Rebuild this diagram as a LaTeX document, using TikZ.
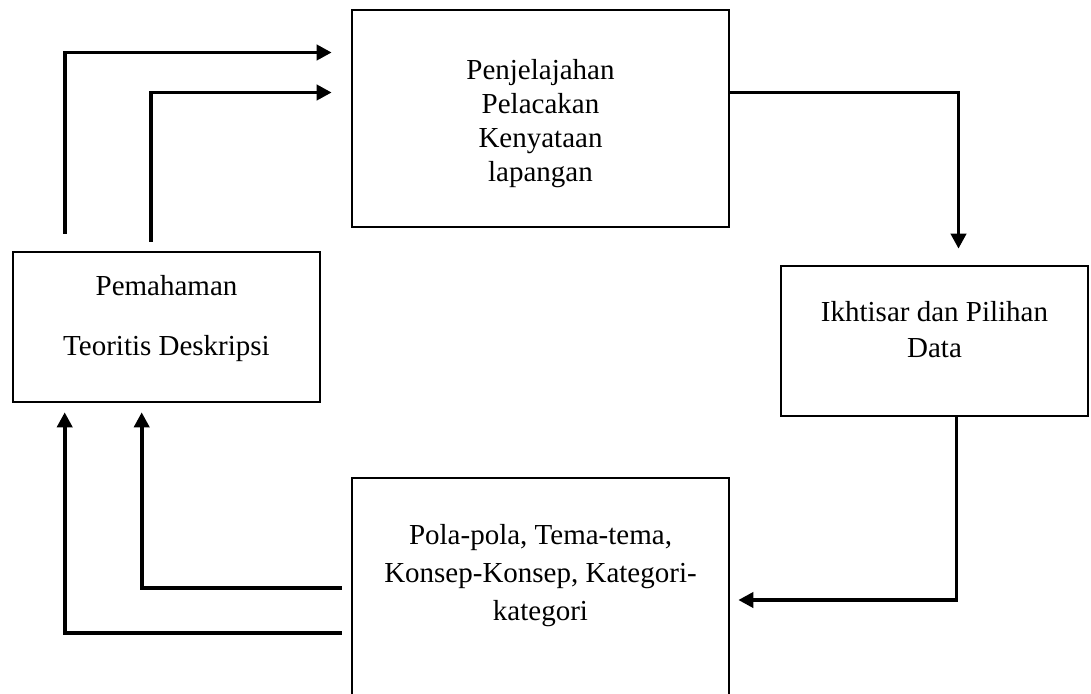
\documentclass[tikz,border=0pt]{standalone}
\usepackage{fontspec}
\setmainfont{Liberation Serif}
\usetikzlibrary{calc,arrows.meta}

\begin{document}
\begin{tikzpicture}[x=1pt,y=-1pt,
	kotak/.style={draw, line width=2.6pt, align=center, inner sep=0pt, font=\fontsize{29}{34}\selectfont},
	alur/.style={line width=3.9pt, -{Triangle[length=15pt,width=15pt]}}]
			%%%%% START %%%%%
			\def\ekor{\\[-10pt]\mbox{}}
			\def\jarak{19}
			
			\useasboundingbox (0,0) rectangle (1091,693);
			
			\node[kotak, minimum width=377, minimum height=217] (jelajah) at (540.5,118.5) {\mbox{}\\[-4pt]Penjelajahan\\Pelacakan\\Kenyataan\\lapangan};
			\node[kotak, minimum width=307, minimum height=150] (teori) at (166.5,327) {Pemahaman\\[26pt]Teoritis Deskripsi\ekor};
			\node[kotak, minimum width=307, minimum height=150] (ikhtisar) at (934.5,341) {Ikhtisar dan Pilihan\\[2pt]Data\ekor};
			\node[kotak, minimum width=377, minimum height=232, font=\fontsize{29}{38}\selectfont] (pola) at (540.5,594) {Pola-pola, Tema-tema,\\Konsep-Konsep, Kategori-\\kategori\\[6pt]\mbox{}};
			
			%naik ke penjelajahan
			\draw[alur] ($(teori.north west)+(53,-17)$) |- ($(jelajah.west)+(-\jarak,-66)$);
			\draw[alur] ($(teori.north west)+(139,-9)$) |- ($(jelajah.west)+(-\jarak,-26)$);
			
			\draw[alur] ($(jelajah.east)+(0,-26)$) -| ($(ikhtisar.north)+(24,-16)$);
			\draw[alur] ($(ikhtisar.south)+(22,0)$) |- ($(pola.east)+(8,6)$);
			
			%balik ke pemahaman
			\draw[alur] ($(pola.west)+(-9,-6)$) -| ($(teori.south west)+(130,9)$);
			\draw[alur] ($(pola.west)+(-9,39)$) -| ($(teori.south west)+(53,9)$);
			%%%%% START %%%%%
\end{tikzpicture}
\end{document}
